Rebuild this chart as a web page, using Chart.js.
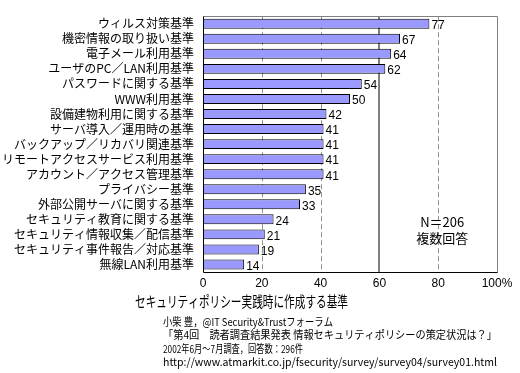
<!DOCTYPE html>
<html>
<head>
<meta charset="utf-8">
<script src="https://cdn.jsdelivr.net/npm/chart.js@4.4.0/dist/chart.umd.min.js"></script>
<style>
    html, body { margin: 0; padding: 0; background: #fff; }
    #wrap { width: 520px; height: 373px; }
</style>
</head>
<body>
<div id="wrap"><canvas id="chart" width="520" height="373"></canvas></div>
<script>
// data (percent of 206 answers)
const categories = [
    'ウィルス対策基準',
    '機密情報の取り扱い基準',
    '電子メール利用基準',
    'ユーザのPC／LAN利用基準',
    'パスワードに関する基準',
    'WWW利用基準',
    '設備建物利用に関する基準',
    'サーバ導入／運用時の基準',
    'バックアップ／リカバリ関連基準',
    'リモートアクセスサービス利用基準',
    'アカウント／アクセス管理基準',
    'プライバシー基準',
    '外部公開サーバに関する基準',
    'セキュリティ教育に関する基準',
    'セキュリティ情報収集／配信基準',
    'セキュリティ事件報告／対応基準',
    '無線LAN利用基準'
];
const values = [77, 67, 64, 62, 54, 50, 42, 41, 41, 41, 41, 35, 33, 24, 21, 19, 14];
const xTicks = [0, 20, 40, 60, 80, 100];
const chartTitle = 'セキュリティポリシー実践時に作成する基準';
const sourceLines = [
    '小柴 豊，@IT Security&Trustフォーラム',
    '「第4回　読者調査結果発表 情報セキュリティポリシーの策定状況は？」',
    '2002年6月～7月調査，回答数：296件',
    'http://www.atmarkit.co.jp/fsecurity/survey/survey04/survey01.html'
];
const noteLines = ['N＝206', '複数回答'];

const JP = '"Noto Sans CJK JP", "DejaVu Sans", sans-serif';

// grid, frame, value labels and the texts under the chart
const extras = {
    id: 'extras',
    beforeDatasetsDraw(chart) {
        const { ctx, chartArea: a, scales: { x } } = chart;
        ctx.save();
        xTicks.forEach(v => {
            if (v === 0 || v === 100) return;
            const px = Math.round(x.getPixelForValue(v));
            ctx.beginPath();
            if (v === 60) {
                ctx.strokeStyle = '#808080';
                ctx.lineWidth = 2;
                ctx.setLineDash([]);
                ctx.moveTo(px, a.top);
                ctx.lineTo(px, a.bottom);
            } else {
                ctx.strokeStyle = '#909090';
                ctx.lineWidth = 1;
                ctx.setLineDash([5, 3]);
                ctx.moveTo(px + 0.5, a.top);
                ctx.lineTo(px + 0.5, a.bottom);
            }
            ctx.stroke();
        });
        ctx.setLineDash([]);
        ctx.lineWidth = 1;
        const l = Math.round(a.left) + 0.5, r = Math.round(a.right) + 0.5;
        const t = Math.round(a.top) + 0.5, b = Math.round(a.bottom) + 0.5;
        ctx.strokeStyle = '#808080';
        ctx.beginPath();
        ctx.moveTo(l, t); ctx.lineTo(r, t); ctx.lineTo(r, b);
        ctx.stroke();
        ctx.strokeStyle = '#000';
        ctx.beginPath();
        ctx.moveTo(l, t); ctx.lineTo(l, b); ctx.lineTo(r, b);
        ctx.stroke();
        ctx.restore();
    },
    afterDatasetsDraw(chart) {
        const { ctx } = chart;
        const meta = chart.getDatasetMeta(0);
        ctx.save();
        ctx.fillStyle = '#000';
        ctx.font = '12px "Liberation Sans", Arial, sans-serif';
        ctx.textAlign = 'left';
        ctx.textBaseline = 'middle';
        meta.data.forEach((bar, i) => {
            ctx.fillText(String(values[i]), bar.x + 2, bar.y + 2);
        });
        ctx.restore();
    },
    afterDraw(chart) {
        const { ctx, chartArea: a } = chart;
        ctx.save();
        ctx.fillStyle = '#000';
        ctx.textBaseline = 'middle';

        ctx.textAlign = 'center';
        ctx.font = '13px ' + JP;
        const nx = (a.right + chart.scales.x.getPixelForValue(60)) / 2 + 4;
        ctx.fillText(noteLines[0], nx, a.bottom - 50);
        ctx.fillText(noteLines[1], nx, a.bottom - 34);

        ctx.textAlign = 'left';
        ctx.font = '15px ' + JP;
        ctx.fillText(chartTitle, 135, 301, 213);

        ctx.font = '11px ' + JP;
        const widths = [170, 334, 140, 334];
        sourceLines.forEach((s, i) => {
            ctx.fillText(s, 163, 322 + i * 13.3, widths[i]);
        });
        ctx.restore();
    }
};

new Chart(document.getElementById('chart'), {
    type: 'bar',
    data: {
        labels: categories,
        datasets: [{
            data: values,
            backgroundColor: '#9999ff',
            borderColor: '#000',
            borderWidth: 1,
            borderSkipped: false,
            barPercentage: 0.66,
            categoryPercentage: 1
        }]
    },
    options: {
        indexAxis: 'y',
        responsive: false,
        animation: false,
        devicePixelRatio: 1,
        layout: { padding: { left: 0, right: 23, top: 3, bottom: 81 } },
        plugins: {
            legend: { display: false },
            tooltip: { enabled: false },
            title: { display: false }
        },
        scales: {
            x: {
                min: 0,
                max: 100,
                afterBuildTicks: s => { s.ticks = xTicks.map(v => ({ value: v })); },
                afterFit: s => { s.height = 20; },
                grid: { display: false, drawTicks: false },
                border: { display: false },
                ticks: {
                    color: '#000',
                    padding: 4,
                    maxRotation: 0,
                    font: { family: '"Liberation Sans", Arial, sans-serif', size: 12 },
                    callback: v => v === 100 ? '100%' : v
                }
            },
            y: {
                afterFit: s => { s.width = 203; },
                grid: { display: false, drawTicks: false },
                border: { display: false },
                ticks: {
                    color: '#000',
                    padding: 9,
                    autoSkip: false,
                    font: { family: JP, size: 12 }
                }
            }
        }
    },
    plugins: [extras]
});
</script>
</body>
</html>
